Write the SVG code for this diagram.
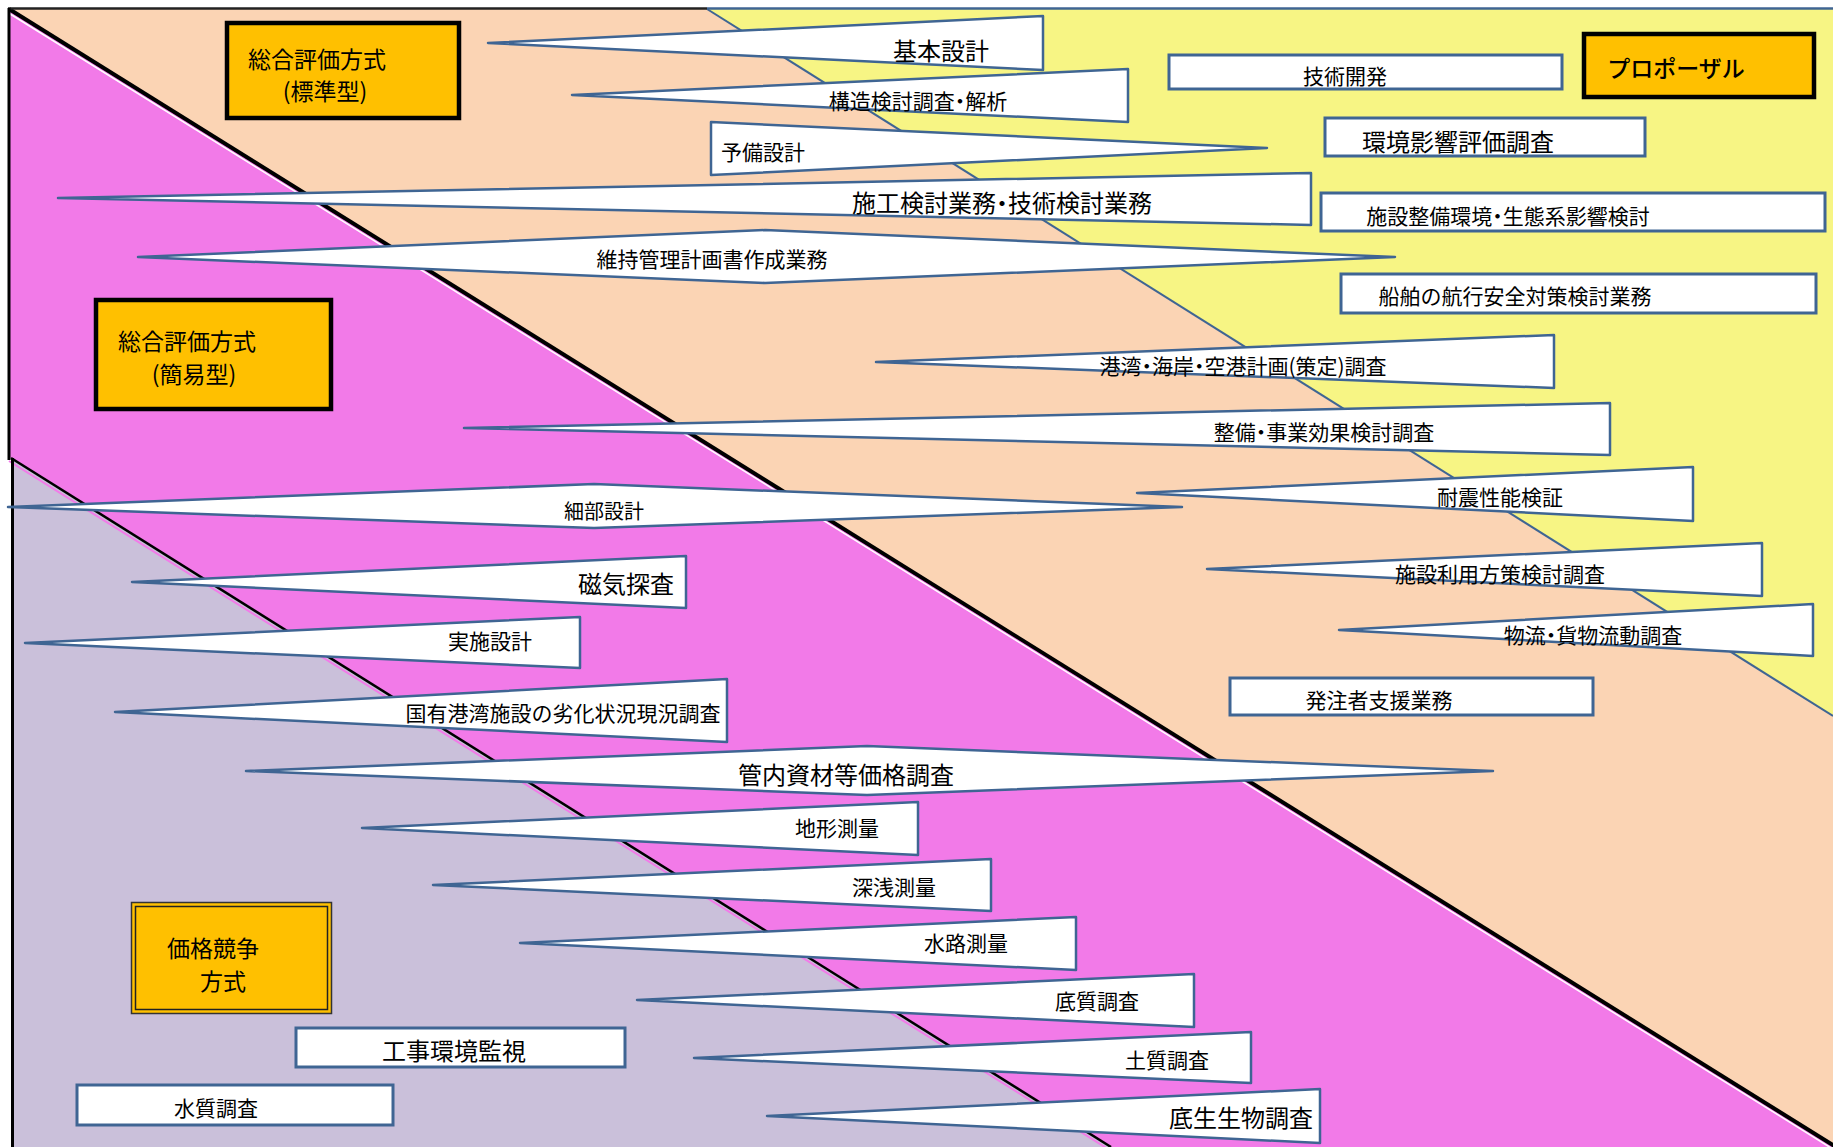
<svg xmlns="http://www.w3.org/2000/svg" width="1833" height="1147" viewBox="0 0 1833 1147">
<style>
text{font-family:"Noto Sans CJK JP","Noto Sans",sans-serif;fill:#000;text-anchor:middle;}
.p{font-feature-settings:"palt" 1;}
.co{fill:#fff;stroke:#3F6593;stroke-width:2.5;stroke-linejoin:round;}
.bx{fill:#fff;stroke:#3F6593;stroke-width:3;}
.hd{fill:#FFC000;stroke:#000;stroke-width:4.5;}
.f21{font-size:21px;}
.f24{font-size:24px;}
.f23{font-size:23px;}
</style>
<rect width="1833" height="1147" fill="#fff"/>
<g id="background">
  <polygon points="9,9 707,9 1833,716 1833,1145" fill="#FBD4B4"/>
  <polygon points="707,9 1833,9 1833,716" fill="#F7F584"/>
  <polygon points="9,9 1833,1145 1833,1147 1111,1147 11,458 9,458" fill="#F27AE8"/>
  <polygon points="12,458 1111,1147 12,1147" fill="#CAC0DA"/>
  <line x1="7" y1="12" x2="1831" y2="1148" stroke="#fff" stroke-width="1.5"/>
  <line x1="9" y1="9" x2="1836" y2="1147" stroke="#000" stroke-width="4"/>
  <line x1="9" y1="461" x2="1108" y2="1149" stroke="#F27AE8" stroke-width="2"/>
  <line x1="11" y1="458" x2="1111" y2="1147" stroke="#000" stroke-width="2.5"/>
  <line x1="707" y1="9" x2="1833" y2="716" stroke="#3F6593" stroke-width="2"/>
  <line x1="8" y1="8.5" x2="707" y2="8.5" stroke="#222" stroke-width="2.5"/>
  <line x1="707" y1="8.5" x2="1833" y2="8.5" stroke="#3F6593" stroke-width="2.5"/>
  <line x1="9" y1="8" x2="9" y2="460" stroke="#000" stroke-width="3"/>
  <line x1="12.5" y1="458" x2="12.5" y2="1147" stroke="#000" stroke-width="3"/>
</g>
<g id="connectors"></g>
<g id="n-hyojun"><rect class="hd" x="227" y="23" width="232" height="95"/><text class="f23" x="317" y="68">総合評価方式</text><text class="f23 p" x="325" y="100">(標準型)</text></g>
<g id="n-kan-i"><rect class="hd" x="96" y="300" width="235" height="109"/><text class="f23" x="187" y="350">総合評価方式</text><text class="f23 p" x="194" y="383">(簡易型)</text></g>
<g id="n-kakaku"><rect x="131.5" y="902.5" width="200" height="111" fill="#FFC000" stroke="#333" stroke-width="1.5"/><rect x="135.5" y="906.5" width="192" height="103" fill="none" stroke="#222" stroke-width="1.5"/><text class="f23" x="213" y="957">価格競争</text><text class="f23" x="223" y="990">方式</text></g>
<g id="n-proposal"><rect class="hd" x="1584" y="34" width="230" height="63"/><text style="font-size:23px;font-weight:500" x="1676" y="77">プロポーザル</text></g>
<g id="n-kihon"><polygon class="co" points="488,43 1043,16 1043,70"/><text class="f24" x="941" y="60">基本設計</text></g>
<g id="n-kozo"><polygon class="co" points="572,95 1128,69 1128,122"/><text class="f21 p" x="918" y="109">構造検討調査・解析</text></g>
<g id="n-yobi"><polygon class="co" points="711,122 1267,148 711,175"/><text class="f21" x="763" y="160">予備設計</text></g>
<g id="n-seko"><polygon class="co" points="58,198 1311,173 1311,225"/><text class="f24 p" x="1002" y="212">施工検討業務・技術検討業務</text></g>
<g id="n-iji"><polygon class="co" points="138,257 765,230 1395,257 765,283"/><text class="f21" x="712" y="267">維持管理計画書作成業務</text></g>
<g id="n-gijutsu"><rect class="bx" x="1169" y="55" width="393" height="34"/><text class="f21" x="1345" y="84">技術開発</text></g>
<g id="n-kankyo"><rect class="bx" x="1325" y="118" width="320" height="38"/><text class="f24" x="1458" y="151">環境影響評価調査</text></g>
<g id="n-shisetsu-seibi"><rect class="bx" x="1321" y="193" width="504" height="38"/><text class="f21 p" x="1508" y="224">施設整備環境・生態系影響検討</text></g>
<g id="n-senpaku"><rect class="bx" x="1341" y="274" width="475" height="39"/><text class="f21" x="1515" y="304">船舶の航行安全対策検討業務</text></g>
<g id="n-kowan"><polygon class="co" points="876,362 1554,335 1554,388"/><text class="f21 p" x="1243" y="374">港湾・海岸・空港計画(策定)調査</text></g>
<g id="n-seibi"><polygon class="co" points="464,428 1610,403 1610,455"/><text class="f21 p" x="1324" y="440">整備・事業効果検討調査</text></g>
<g id="n-taishin"><polygon class="co" points="1137,493 1693,467 1693,521"/><text class="f21" x="1500" y="505">耐震性能検証</text></g>
<g id="n-saibu"><polygon class="co" points="8,507 594,484 1182,507 594,528"/><text style="font-size:20px" x="604" y="519">細部設計</text></g>
<g id="n-shisetsu-riyo"><polygon class="co" points="1207,569 1762,543 1762,596"/><text class="f21" x="1500" y="582">施設利用方策検討調査</text></g>
<g id="n-butsuryu"><polygon class="co" points="1339,630 1813,604 1813,656"/><text class="f21 p" x="1593" y="643">物流・貨物流動調査</text></g>
<g id="n-hatchusha"><rect class="bx" x="1230" y="678" width="363" height="37"/><text class="f21" x="1379" y="708">発注者支援業務</text></g>
<g id="n-jiki"><polygon class="co" points="132,582 686,556 686,608"/><text class="f24" x="626" y="593">磁気探査</text></g>
<g id="n-jisshi"><polygon class="co" points="25,643 580,617 580,668"/><text class="f21" x="490" y="649">実施設計</text></g>
<g id="n-kokuyu"><polygon class="co" points="115,712 727,679 727,742"/><text class="f21" x="563" y="721">国有港湾施設の劣化状況現況調査</text></g>
<g id="n-kannai"><polygon class="co" points="246,771 867,746 1493,771 867,795"/><text class="f24" x="846" y="784">管内資材等価格調査</text></g>
<g id="n-chikei"><polygon class="co" points="362,828 918,802 918,855"/><text class="f21" x="837" y="836">地形測量</text></g>
<g id="n-shinsen"><polygon class="co" points="433,885 991,859 991,911"/><text class="f21" x="894" y="895">深浅測量</text></g>
<g id="n-suiro"><polygon class="co" points="520,943 1076,917 1076,970"/><text class="f21" x="966" y="951">水路測量</text></g>
<g id="n-teishitsu"><polygon class="co" points="637,1000 1194,974 1194,1027"/><text class="f21" x="1097" y="1009">底質調査</text></g>
<g id="n-doshitsu"><polygon class="co" points="694,1058 1251,1032 1251,1083"/><text class="f21" x="1167" y="1068">土質調査</text></g>
<g id="n-teisei"><polygon class="co" points="767,1116 1320,1089 1320,1143"/><text class="f24" x="1241" y="1127">底生生物調査</text></g>
<g id="n-koji"><rect class="bx" x="296" y="1028" width="329" height="39"/><text class="f24" x="454" y="1060">工事環境監視</text></g>
<g id="n-suishitsu"><rect class="bx" x="77" y="1085" width="316" height="40"/><text class="f21" x="216" y="1116">水質調査</text></g>
</svg>
